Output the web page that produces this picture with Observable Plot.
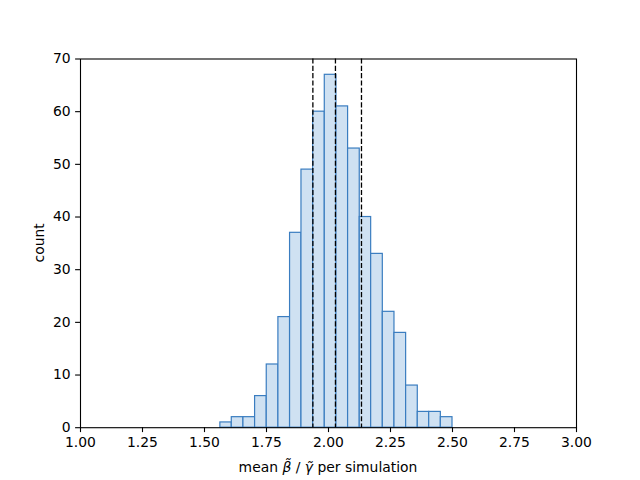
<!DOCTYPE html>
<html>
<head>
<meta charset="utf-8">
<script src="https://cdn.jsdelivr.net/npm/d3@7"></script>
<script src="https://cdn.jsdelivr.net/npm/@observablehq/plot@0.6"></script>
<style>
  html, body { margin: 0; padding: 0; background: #fff; }
  #chart svg { display: block; }
</style>
</head>
<body>
<div id="chart"></div>
<script>
const binEdges = [1.564, 1.610, 1.657, 1.704, 1.751, 1.798, 1.845, 1.891, 1.938, 1.985,
                  2.032, 2.079, 2.126, 2.172, 2.219, 2.266, 2.313, 2.360, 2.406, 2.453, 2.500];
const counts = [1, 2, 2, 6, 12, 21, 37, 49, 60, 67, 61, 53, 40, 33, 22, 18, 8, 3, 3, 2];
const refLines = [1.937, 2.028, 2.133];
const xTicks = [1.00, 1.25, 1.50, 1.75, 2.00, 2.25, 2.50, 2.75, 3.00];
const yTicks = [0, 10, 20, 30, 40, 50, 60, 70];

const bins = counts.map((c, i) => ({x1: binEdges[i], x2: binEdges[i + 1], count: c}));

const font = "DejaVu Sans, sans-serif";
const plot = Plot.plot({
  width: 640,
  height: 480,
  marginLeft: 80,
  marginRight: 64,
  marginTop: 58.5,
  marginBottom: 52.8,
  style: {fontFamily: font, fontSize: "13.9px", color: "#000", background: "#fff"},
  x: {domain: [1, 3], label: null},
  y: {domain: [0, 70], label: null},
  marks: [
    Plot.rectY(bins, {x1: "x1", x2: "x2", y: "count", fill: "#cfe1f2", stroke: "#3a7dc0", strokeWidth: 1.2}),
    Plot.ruleX(refLines, {stroke: "#000", strokeWidth: 1.3, strokeDasharray: "5.1,2.2"}),
    Plot.frame({stroke: "#000", strokeWidth: 1.1}),
    Plot.axisX({ticks: xTicks, tickFormat: d3.format(".2f"), tickSize: 4.9, tickPadding: 5, label: null, fontSize: 13.9}),
    Plot.axisY({ticks: yTicks, tickSize: 4.9, tickPadding: 5, label: null, fontSize: 13.9})
  ]
});

const svg = d3.select(plot);
svg.selectAll("[aria-label='x-axis tick'], [aria-label='y-axis tick']").attr("stroke", "#000").attr("stroke-width", 1.1);

// axis labels
svg.append("text")
  .attr("x", 0).attr("y", 0)
  .attr("transform", "translate(44," + (58.5 + (480 - 58.5 - 52.8) / 2) + ") rotate(-90)")
  .attr("text-anchor", "middle")
  .attr("font-family", font).attr("font-size", 13.9).attr("fill", "#000")
  .text("count");

const xl = svg.append("text")
  .attr("x", 80 + (640 - 80 - 64) / 2).attr("y", 472)
  .attr("text-anchor", "middle")
  .attr("font-family", font).attr("font-size", 13.9).attr("fill", "#000");
xl.append("tspan").text("mean ");
xl.append("tspan").attr("font-style", "italic").text("β\u0303");
xl.append("tspan").text(" / ");
xl.append("tspan").attr("font-style", "italic").text("γ\u0303");
xl.append("tspan").text(" per simulation");

document.getElementById("chart").appendChild(plot);
</script>
</body>
</html>
